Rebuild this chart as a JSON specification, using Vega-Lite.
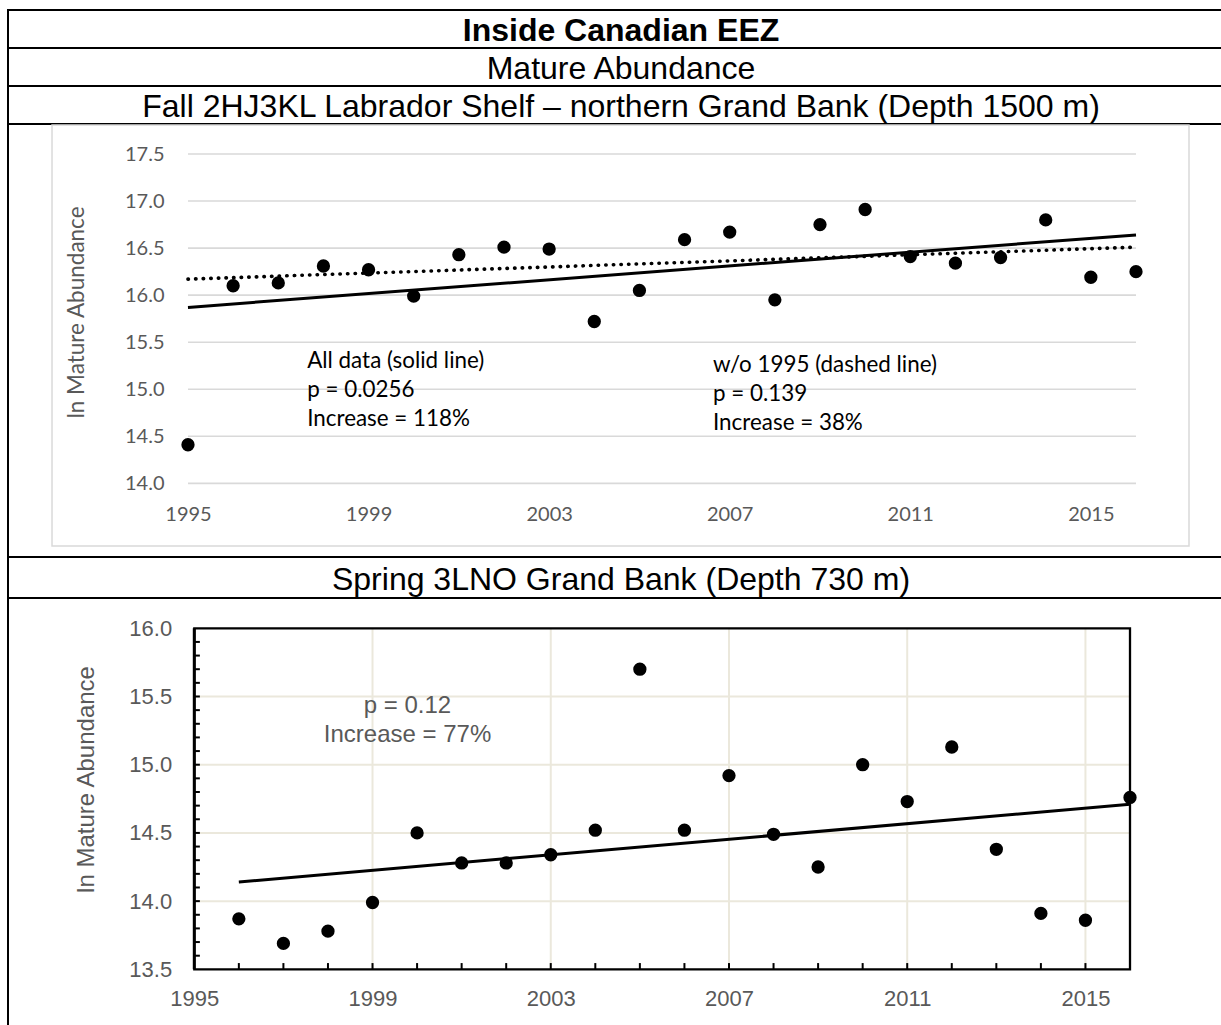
{
  "$schema": "https://vega.github.io/schema/vega-lite/v6.json",
  "background": "white",
  "padding": {"left": 7, "top": 9, "right": 0, "bottom": 0},
  "spacing": 0,
  "bounds": "flush",
  "config": {"view": {"stroke": "black", "strokeWidth": 2}},
  "vconcat": [
    {
      "width": 1226, "height": 38,
      "data": {"values": [{"label": "Inside Canadian EEZ"}]},
      "mark": {"type": "text", "font": "Liberation Sans", "fontSize": 32, "fontWeight": "bold", "color": "black", "dy": 2},
      "encoding": {"y": {"field": "label", "type": "nominal", "axis": null}, "text": {"field": "label", "type": "nominal"}}
    },
    {
      "width": 1226, "height": 38,
      "data": {"values": [{"label": "Mature Abundance"}]},
      "mark": {"type": "text", "font": "Liberation Sans", "fontSize": 32, "color": "black", "dy": 2},
      "encoding": {"y": {"field": "label", "type": "nominal", "axis": null}, "text": {"field": "label", "type": "nominal"}}
    },
    {
      "width": 1226, "height": 38,
      "data": {"values": [{"label": "Fall 2HJ3KL Labrador Shelf – northern Grand Bank (Depth 1500 m)"}]},
      "mark": {"type": "text", "font": "Liberation Sans", "fontSize": 32, "color": "black", "dy": 2},
      "encoding": {"y": {"field": "label", "type": "nominal", "axis": null}, "text": {"field": "label", "type": "nominal"}}
    },
    {
      "width": 1226, "height": 433,
      "layer": [
        {
          "data": {"values": [{}]},
          "mark": {"type": "rect", "fill": "transparent", "stroke": "#d9d9d9", "strokeWidth": 1.5},
          "encoding": {
            "x": {"datum": 1991.988, "type": "quantitative"},
            "x2": {"datum": 2017.174},
            "y": {"datum": 17.808, "type": "quantitative"},
            "y2": {"datum": 13.334}
          }
        },
        {
          "data": {"values": [{"value": 14.0}, {"value": 14.5}, {"value": 15.0}, {"value": 15.5}, {"value": 16.0}, {"value": 16.5}, {"value": 17.0}, {"value": 17.5}]},
          "mark": {"type": "rule", "stroke": "#d9d9d9", "strokeWidth": 1.6},
          "encoding": {
            "x": {"datum": 1995, "type": "quantitative"},
            "x2": {"datum": 2016},
            "y": {"field": "value", "type": "quantitative"}
          }
        },
        {
          "data": {"values": [{"year": 1995, "value": 15.87}, {"year": 2016, "value": 16.64}]},
          "mark": {"type": "line", "color": "black", "strokeWidth": 3},
          "encoding": {
            "x": {"field": "year", "type": "quantitative"},
            "y": {"field": "value", "type": "quantitative"}
          }
        },
        {
          "data": {"values": [{"year": 1995, "value": 16.17}, {"year": 2016, "value": 16.51}]},
          "mark": {"type": "line", "color": "black", "strokeWidth": 3.6, "strokeDash": [0.4, 7.2], "strokeCap": "round"},
          "encoding": {
            "x": {"field": "year", "type": "quantitative"},
            "y": {"field": "value", "type": "quantitative"}
          }
        },
        {
          "data": {"values": [
            {"year": 1995, "value": 14.41}, {"year": 1996, "value": 16.10}, {"year": 1997, "value": 16.13},
            {"year": 1998, "value": 16.31}, {"year": 1999, "value": 16.27}, {"year": 2000, "value": 15.99},
            {"year": 2001, "value": 16.43}, {"year": 2002, "value": 16.51}, {"year": 2003, "value": 16.49},
            {"year": 2004, "value": 15.72}, {"year": 2005, "value": 16.05}, {"year": 2006, "value": 16.59},
            {"year": 2007, "value": 16.67}, {"year": 2008, "value": 15.95}, {"year": 2009, "value": 16.75},
            {"year": 2010, "value": 16.91}, {"year": 2011, "value": 16.41}, {"year": 2012, "value": 16.34},
            {"year": 2013, "value": 16.40}, {"year": 2014, "value": 16.80}, {"year": 2015, "value": 16.19},
            {"year": 2016, "value": 16.25}
          ]},
          "mark": {"type": "circle", "size": 177, "color": "black", "opacity": 1},
          "encoding": {
            "x": {
              "field": "year", "type": "quantitative",
              "scale": {"domain": [1991.013, 2018.171], "nice": false, "zero": false},
              "axis": {"values": [1995, 1999, 2003, 2007, 2011, 2015], "format": "d", "offset": -43, "labelBaseline": "middle", "labelPadding": 0, "ticks": false, "domain": false, "grid": false, "labelFont": "Lato", "labelFontSize": 20, "labelColor": "#595959", "labelFlush": false, "labelOverlap": false, "title": null}
            },
            "y": {
              "field": "value", "type": "quantitative",
              "scale": {"domain": [13.217, 17.819], "nice": false, "zero": false},
              "axis": {"values": [14, 14.5, 15, 15.5, 16, 16.5, 17, 17.5], "format": ".1f", "offset": -156, "labelPadding": 0, "ticks": false, "domain": false, "grid": false, "labelFont": "Lato", "labelFontSize": 20, "labelColor": "#595959", "labelFlush": false, "labelOverlap": false, "title": "ln Mature Abundance", "titleFont": "Lato", "titleFontSize": 22.5, "titleFontWeight": "normal", "titleColor": "#595959", "titleX": -88, "titleY": 188, "titleBaseline": "middle"}
            }
          }
        },
        {
          "data": {"values": [
            {"year": 1997.64, "value": 15.223, "label": ["All data (solid line)", "p = 0.0256", "Increase = 118%"]},
            {"year": 2006.63, "value": 15.186, "label": ["w/o 1995 (dashed line)", "p = 0.139", "Increase = 38%"]}
          ]},
          "mark": {"type": "text", "align": "left", "baseline": "alphabetic", "font": "Lato", "fontSize": 22.4, "lineHeight": 29, "color": "black"},
          "encoding": {
            "x": {"field": "year", "type": "quantitative"},
            "y": {"field": "value", "type": "quantitative"},
            "text": {"field": "label"}
          }
        }
      ]
    },
    {
      "width": 1226, "height": 41,
      "data": {"values": [{"label": "Spring 3LNO Grand Bank (Depth 730 m)"}]},
      "mark": {"type": "text", "font": "Liberation Sans", "fontSize": 32, "color": "black", "dy": 2},
      "encoding": {"y": {"field": "label", "type": "nominal", "axis": null}, "text": {"field": "label", "type": "nominal"}}
    },
    {
      "width": 1226, "height": 430,
      "layer": [
        {
          "data": {"values": [{"value": 14.0}, {"value": 14.5}, {"value": 15.0}, {"value": 15.5}]},
          "mark": {"type": "rule", "stroke": "#ebe8dc", "strokeWidth": 2},
          "encoding": {
            "x": {"datum": 1995, "type": "quantitative"},
            "x2": {"datum": 2016},
            "y": {"field": "value", "type": "quantitative"}
          }
        },
        {
          "data": {"values": [{"year": 1999}, {"year": 2003}, {"year": 2007}, {"year": 2011}, {"year": 2015}]},
          "mark": {"type": "rule", "stroke": "#ebe8dc", "strokeWidth": 2},
          "encoding": {
            "x": {"field": "year", "type": "quantitative"},
            "y": {"datum": 13.5, "type": "quantitative"},
            "y2": {"datum": 16.0}
          }
        },
        {
          "data": {"values": [{}]},
          "mark": {"type": "rect", "fill": "transparent", "stroke": "black", "strokeWidth": 2.3},
          "encoding": {
            "x": {"datum": 1995, "type": "quantitative"},
            "x2": {"datum": 2016},
            "y": {"datum": 13.5, "type": "quantitative"},
            "y2": {"datum": 16.0}
          }
        },
        {
          "data": {"values": [{}]},
          "mark": {"type": "rule", "stroke": "black", "strokeWidth": 3},
          "encoding": {
            "x": {"datum": 1995, "type": "quantitative"},
            "y": {"datum": 13.5, "type": "quantitative"},
            "y2": {"datum": 16.0}
          }
        },
        {
          "data": {"values": [
            {"value": 13.6}, {"value": 13.7}, {"value": 13.8}, {"value": 13.9}, {"value": 14.0}, {"value": 14.1},
            {"value": 14.2}, {"value": 14.3}, {"value": 14.4}, {"value": 14.5}, {"value": 14.6}, {"value": 14.7},
            {"value": 14.8}, {"value": 14.9}, {"value": 15.0}, {"value": 15.1}, {"value": 15.2}, {"value": 15.3},
            {"value": 15.4}, {"value": 15.5}, {"value": 15.6}, {"value": 15.7}, {"value": 15.8}, {"value": 15.9}
          ]},
          "mark": {"type": "rule", "stroke": "black", "strokeWidth": 2},
          "encoding": {
            "x": {"datum": 1995, "type": "quantitative"},
            "x2": {"datum": 1995.125},
            "y": {"field": "value", "type": "quantitative"}
          }
        },
        {
          "data": {"values": [
            {"year": 1996}, {"year": 1997}, {"year": 1998}, {"year": 1999}, {"year": 2000}, {"year": 2001},
            {"year": 2002}, {"year": 2003}, {"year": 2004}, {"year": 2005}, {"year": 2006}, {"year": 2007},
            {"year": 2008}, {"year": 2009}, {"year": 2010}, {"year": 2011}, {"year": 2012}, {"year": 2013},
            {"year": 2014}, {"year": 2015}
          ]},
          "mark": {"type": "rule", "stroke": "black", "strokeWidth": 2},
          "encoding": {
            "x": {"field": "year", "type": "quantitative"},
            "y": {"datum": 13.5, "type": "quantitative"},
            "y2": {"datum": 13.546}
          }
        },
        {
          "data": {"values": [{"year": 1996, "value": 14.14}, {"year": 2016, "value": 14.71}]},
          "mark": {"type": "line", "color": "black", "strokeWidth": 3},
          "encoding": {
            "x": {"field": "year", "type": "quantitative"},
            "y": {"field": "value", "type": "quantitative"}
          }
        },
        {
          "data": {"values": [
            {"year": 1996, "value": 13.87}, {"year": 1997, "value": 13.69}, {"year": 1998, "value": 13.78},
            {"year": 1999, "value": 13.99}, {"year": 2000, "value": 14.50}, {"year": 2001, "value": 14.28},
            {"year": 2002, "value": 14.28}, {"year": 2003, "value": 14.34}, {"year": 2004, "value": 14.52},
            {"year": 2005, "value": 15.70}, {"year": 2006, "value": 14.52}, {"year": 2007, "value": 14.92},
            {"year": 2008, "value": 14.49}, {"year": 2009, "value": 14.25}, {"year": 2010, "value": 15.00},
            {"year": 2011, "value": 14.73}, {"year": 2012, "value": 15.13}, {"year": 2013, "value": 14.38},
            {"year": 2014, "value": 13.91}, {"year": 2015, "value": 13.86}, {"year": 2016, "value": 14.76}
          ]},
          "mark": {"type": "circle", "size": 177, "color": "black", "opacity": 1},
          "encoding": {
            "x": {
              "field": "year", "type": "quantitative",
              "scale": {"domain": [1990.819, 2018.334], "nice": false, "zero": false},
              "axis": {"values": [1995, 1999, 2003, 2007, 2011, 2015], "format": "d", "offset": -30, "labelBaseline": "middle", "labelPadding": 0, "ticks": false, "domain": false, "grid": false, "labelFont": "Liberation Sans", "labelFontSize": 22, "labelColor": "#595959", "labelFlush": false, "labelOverlap": false, "title": null}
            },
            "y": {
              "field": "value", "type": "quantitative",
              "scale": {"domain": [13.07, 16.222], "nice": false, "zero": false},
              "axis": {"values": [13.5, 14, 14.5, 15, 15.5, 16], "format": ".1f", "offset": -163.7, "labelPadding": 0, "ticks": false, "domain": false, "grid": false, "labelFont": "Liberation Sans", "labelFontSize": 22, "labelColor": "#595959", "labelFlush": false, "labelOverlap": false, "title": "ln Mature Abundance", "titleFont": "Liberation Sans", "titleFontSize": 24, "titleFontWeight": "normal", "titleColor": "#595959", "titleX": -85, "titleY": 181, "titleBaseline": "middle"}
            }
          }
        },
        {
          "data": {"values": [{"year": 1999.785, "value": 15.377, "label": ["p = 0.12", "Increase = 77%"]}]},
          "mark": {"type": "text", "align": "center", "baseline": "alphabetic", "font": "Liberation Sans", "fontSize": 24, "lineHeight": 28.3, "color": "#595959"},
          "encoding": {
            "x": {"field": "year", "type": "quantitative"},
            "y": {"field": "value", "type": "quantitative"},
            "text": {"field": "label"}
          }
        }
      ]
    }
  ]
}
